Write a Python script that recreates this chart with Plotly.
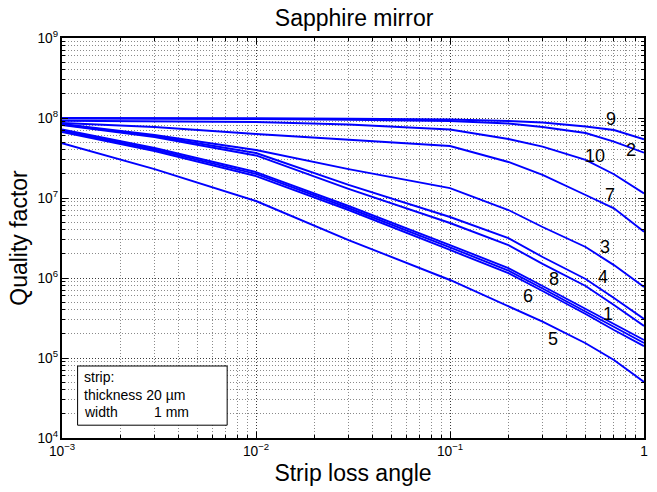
import numpy as np
import plotly.graph_objects as go

# loss angle sample points
loss_angle = [0.001, 0.003, 0.01, 0.03, 0.1, 0.2, 0.3, 0.5, 0.7, 1.0]

# quality factor curves
q9  = [1.00e8, 1.00e8, 9.91e7, 9.77e7, 9.58e7, 9.17e7, 8.79e7, 7.83e7, 7.08e7, 5.42e7]
q2  = [9.86e7, 9.83e7, 9.72e7, 9.50e7, 9.17e7, 8.54e7, 7.72e7, 6.49e7, 5.08e7, 3.68e7]
q10 = [9.25e7, 9.17e7, 8.91e7, 8.29e7, 7.18e7, 5.46e7, 4.38e7, 2.99e7, 1.98e7, 1.14e7]
q7  = [8.66e7, 7.72e7, 6.31e7, 5.39e7, 4.47e7, 2.82e7, 1.94e7, 1.09e7, 7.43e6, 3.79e6]
q3  = [8.41e7, 6.13e7, 3.98e7, 2.30e7, 1.33e7, 7.08e6, 4.34e6, 2.44e6, 1.45e6, 7.72e5]
q4  = [8.29e7, 5.96e7, 3.65e7, 1.46e7, 5.79e6, 3.16e6, 1.83e6, 9.72e5, 5.62e5, 3.07e5]
q8  = [8.18e7, 5.79e7, 3.40e7, 1.30e7, 4.87e6, 2.58e6, 1.50e6, 7.94e5, 4.60e5, 2.51e5]
q6  = [7.18e7, 4.22e7, 2.11e7, 7.94e6, 2.58e6, 1.33e6, 7.94e5, 4.10e5, 2.66e5, 1.68e5]
q1a = [6.94e7, 4.04e7, 2.00e7, 7.50e6, 2.41e6, 1.24e6, 7.39e5, 3.81e5, 2.44e5, 1.54e5]
q1  = [6.68e7, 3.87e7, 1.88e7, 7.08e6, 2.24e6, 1.15e6, 6.88e5, 3.55e5, 2.24e5, 1.41e5]
q5  = [4.83e7, 2.30e7, 9.17e6, 2.98e6, 9.44e5, 4.47e5, 2.84e5, 1.53e5, 9.44e4, 5.01e4]

curves = [q9, q2, q10, q7, q3, q4, q8, q6, q1a, q1, q5]

# curve labels and where they sit
label_text = ['9', '2', '10', '7', '3', '4', '8', '6', '1', '5']
label_x = [0.678, 0.859, 0.562, 0.665, 0.627, 0.615, 0.344, 0.252, 0.653, 0.338]
label_y = [9.64e7, 3.98e7, 3.35e7, 1.09e7, 2.46e6, 1.04e6, 9.64e5, 5.96e5, 3.55e5, 1.71e5]

FONT = "Liberation Sans, Arial, sans-serif"

fig = go.Figure()
for q in curves:
    fig.add_trace(go.Scatter(x=loss_angle, y=q, mode='lines',
                             line=dict(color='#0000ff', width=1.9),
                             showlegend=False, hoverinfo='skip'))

for t, lx, ly in zip(label_text, label_x, label_y):
    fig.add_annotation(x=np.log10(lx), y=np.log10(ly), text=t, showarrow=False,
                       font=dict(family=FONT, size=18, color='black'),
                       xanchor='center', yanchor='middle')

# info box
fig.add_shape(type='rect', xref='paper', yref='paper',
              x0=0.0268, x1=0.2838, y0=0.032, y1=0.18,
              line=dict(color='black', width=1), fillcolor='white', layer='above')
box_font = dict(family=FONT, size=14, color='black')
fig.add_annotation(xref='paper', yref='paper', x=0.0345, y=0.1525, text='strip:',
                   showarrow=False, xanchor='left', yanchor='middle', font=box_font)
fig.add_annotation(xref='paper', yref='paper', x=0.0345, y=0.1075, text='thickness 20 \u00b5m',
                   showarrow=False, xanchor='left', yanchor='middle', font=box_font)
fig.add_annotation(xref='paper', yref='paper', x=0.0345, y=0.065, text='width',
                   showarrow=False, xanchor='left', yanchor='middle', font=box_font)
fig.add_annotation(xref='paper', yref='paper', x=0.155, y=0.065, text='1 mm',
                   showarrow=False, xanchor='left', yanchor='middle', font=box_font)

axis_common = dict(
    type='log', dtick=1, exponentformat='power', showexponent='all',
    showline=True, linecolor='black', linewidth=1.5, mirror='ticks',
    ticks='inside', ticklen=6, tickcolor='black',
    showgrid=True, gridcolor='#3a3a3a', griddash='1px,2px', gridwidth=1,
    zeroline=False,
    tickfont=dict(family=FONT, size=11, color='black'),
    minor=dict(ticks='inside', ticklen=3, tickcolor='black', dtick='D1',
               showgrid=True, gridcolor='#8a8a8a', griddash='1px,2px', gridwidth=1),
)

fig.update_layout(
    width=657, height=492,
    margin=dict(l=62, r=9, t=38, b=54),
    paper_bgcolor='white', plot_bgcolor='white',
    title=dict(text='Sapphire mirror', x=0.539, xanchor='center',
               yref='container', y=0.963, yanchor='middle',
               font=dict(family=FONT, size=23, color='black')),
    xaxis=dict(range=[-3, 0], title=dict(text='Strip loss angle', standoff=7,
               font=dict(family=FONT, size=23, color='black')), **axis_common),
    yaxis=dict(range=[4, 9], title=dict(text='Quality factor', standoff=3,
               font=dict(family=FONT, size=23, color='black')), **axis_common),
    showlegend=False,
)

fig.write_html("out.html")
